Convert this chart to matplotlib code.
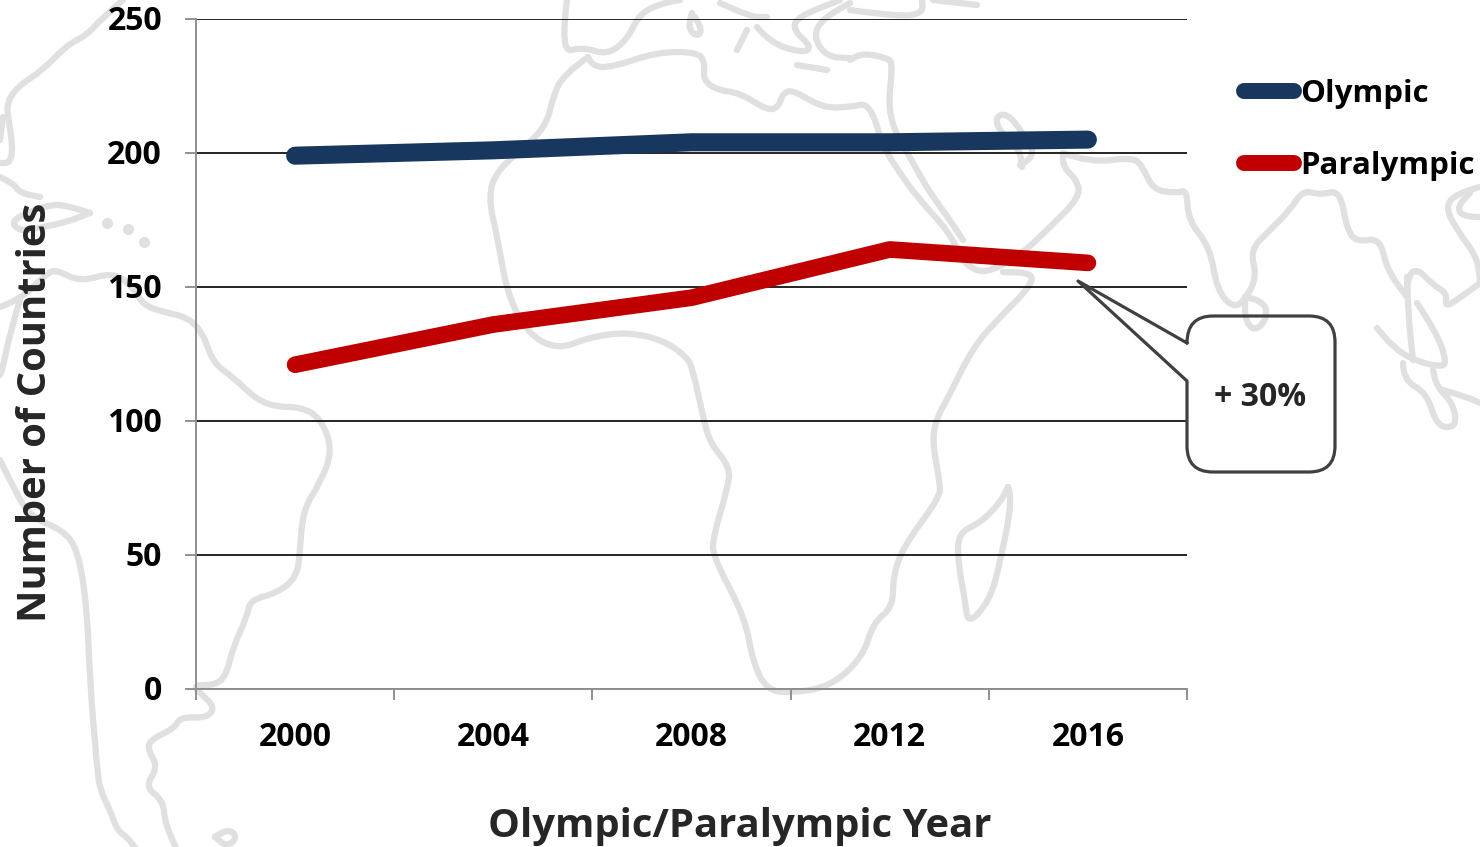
import matplotlib.pyplot as plt
from matplotlib.patches import PathPatch
from matplotlib.path import Path
from matplotlib.transforms import ScaledTranslation

W, H = 1480, 847

years = ['2000', '2004', '2008', '2012', '2016']
olympic = [199, 201, 204, 204, 205]
paralympic = [121, 136, 146, 164, 159]
y_ticks = [0, 50, 100, 150, 200, 250]

# faint world map behind the chart, traced in pixel coordinates of the picture
map_outlines = [
    # north america / greenland side
    [(123, 0), (100, 20), (87, 35), (67, 45), (43, 70), (17, 87), (7, 103), (8, 117), (13, 147), (10, 163), (0, 163)],
    [(3, 117), (0, 140)],
    [(0, 177), (13, 183), (20, 193), (40, 197)],
    [(90, 213), (67, 205), (47, 205), (10, 220), (20, 232), (43, 227), (67, 222), (90, 213)],
    # south america
    [(0, 307), (20, 300), (47, 273), (57, 270), (80, 282), (113, 272), (133, 287), (143, 305), (163, 312), (187, 317),
     (203, 333), (213, 363), (233, 377), (257, 400), (277, 407), (300, 407), (320, 417), (333, 450), (320, 483),
     (303, 510), (300, 550), (297, 577), (277, 593), (250, 600), (247, 617), (233, 647), (227, 673), (217, 685),
     (193, 685), (200, 693), (215, 707), (207, 718), (180, 717), (175, 728), (150, 740), (148, 750), (158, 767),
     (145, 787), (163, 800), (165, 823), (177, 850)],
    [(20, 300), (10, 333), (3, 367), (0, 375)],
    [(0, 460), (13, 487), (30, 517), (63, 530), (78, 550), (87, 607), (90, 683), (97, 767), (100, 790), (110, 810),
     (117, 830), (127, 837), (137, 850)],
    [(215, 837), (227, 828), (238, 837), (227, 847), (215, 837)],
    # europe
    [(567, 0), (560, 53), (583, 47), (607, 55), (627, 40), (640, 13), (663, 3), (680, 0)],
    [(692, 13), (687, 27), (697, 37), (702, 30), (695, 17)],
    [(720, 3), (750, 17), (767, 17)],
    [(747, 30), (737, 50)],
    [(757, 27), (770, 43), (803, 53), (812, 47), (793, 30), (797, 17), (840, 0)],
    [(850, 3), (823, 17), (813, 37), (827, 57), (850, 58)],
    [(797, 65), (827, 70)],
    [(850, 10), (900, 17), (923, 13), (922, 0)],
    [(933, 0), (977, 5)],
    # africa
    [(588, 57), (592, 67), (613, 67), (657, 52), (697, 52), (705, 62), (703, 80), (717, 90), (740, 93), (767, 110),
     (778, 108), (783, 93), (793, 90), (823, 108), (850, 107), (870, 103), (883, 147), (900, 173), (917, 197),
     (950, 233), (960, 257), (973, 270), (990, 272), (1023, 253), (1050, 227), (1080, 197), (1077, 180), (1063, 167),
     (1063, 153)],
    [(588, 57), (563, 75), (553, 97), (547, 123), (530, 143), (497, 170), (488, 197), (498, 240), (507, 293),
     (527, 333), (557, 350), (590, 337), (627, 332), (663, 340), (687, 357), (693, 370), (703, 417), (710, 443),
     (730, 467), (728, 487), (713, 537), (713, 557), (745, 617), (753, 663), (767, 690), (790, 693), (830, 687),
     (863, 657), (873, 623), (893, 607), (893, 577), (903, 547), (940, 497), (940, 483), (932, 440), (937, 417),
     (947, 400), (973, 347), (1000, 317), (1030, 287), (1033, 273), (1003, 272)],
    [(1008, 487), (1013, 497), (1000, 563), (990, 600), (968, 625), (965, 600), (958, 563), (958, 533), (980, 523),
     (1000, 503), (1008, 487)],
    # red sea, arabia
    [(963, 240), (950, 220), (930, 193), (913, 163), (887, 117), (893, 63), (887, 58), (863, 53), (850, 60)],
    [(1020, 165), (1037, 157), (1023, 133), (1007, 113), (995, 117), (1000, 132), (1020, 150), (1022, 167)],
    # south asia
    [(1063, 153), (1090, 163), (1133, 157), (1143, 167), (1153, 190), (1177, 193), (1187, 190), (1188, 220),
     (1210, 247), (1217, 290), (1233, 308), (1245, 300), (1257, 277), (1250, 250), (1270, 230), (1290, 210),
     (1303, 190), (1320, 195), (1340, 190), (1347, 230), (1357, 242), (1380, 238), (1387, 270), (1407, 297)],
    [(1245, 297), (1263, 300), (1268, 317), (1255, 332), (1245, 320), (1245, 297)],
    [(1407, 297), (1407, 277), (1417, 268), (1433, 285), (1447, 293), (1445, 307), (1457, 300), (1480, 283)],
    [(1407, 277), (1408, 313), (1413, 360)],
    [(1417, 303), (1437, 333), (1447, 363), (1440, 367), (1413, 360), (1393, 347), (1377, 328)],
    [(1403, 363), (1403, 380), (1427, 393), (1437, 427), (1457, 427), (1453, 403), (1437, 387), (1433, 370)],
    [(1443, 390), (1467, 397), (1480, 403)],
    [(1480, 187), (1457, 193), (1445, 207), (1457, 230), (1477, 257), (1480, 280)],
    [(1480, 217), (1463, 217), (1457, 207), (1470, 193)],
]
map_islands = [(107, 223), (128, 229), (144, 242)]

plt.rcParams['font.family'] = ['Open Sans', 'DejaVu Sans']
plt.rcParams['font.weight'] = 'bold'


def smooth_path(points):
    # quadratic curves through the midpoints so the coast looks hand drawn
    verts = [points[0]]
    codes = [Path.MOVETO]
    for a, b in zip(points[1:-1], points[2:]):
        verts += [a, ((a[0] + b[0]) / 2, (a[1] + b[1]) / 2)]
        codes += [Path.CURVE3, Path.CURVE3]
    verts.append(points[-1])
    codes.append(Path.LINETO)
    return Path(verts, codes)


fig = plt.figure(figsize=(W / 100, H / 100), dpi=100)

# map layer
bg = fig.add_axes([0, 0, 1, 1], zorder=0)
bg.set_xlim(0, W)
bg.set_ylim(H, 0)
bg.axis('off')
for outline in map_outlines:
    bg.add_patch(PathPatch(smooth_path(outline), fc='none', ec='#e0e0e0', lw=4.5, capstyle='round', joinstyle='round'))
bg.plot([p[0] for p in map_islands], [p[1] for p in map_islands], 'o', color='#e0e0e0', ms=7)

ax = fig.add_axes([196 / W, 1 - 689 / H, (1187 - 196) / W, (689 - 19) / H], zorder=1)
ax.patch.set_alpha(0)

x = range(len(years))
ax.plot(x, olympic, color='#17375e', lw=13, solid_capstyle='round', label='Olympic', zorder=3)
ax.plot(x, paralympic, color='#c00000', lw=12, solid_capstyle='round', label='Paralympic', zorder=3)

ax.set_xlim(-0.5, 4.5)
ax.set_ylim(0, 250)
ax.set_yticks(y_ticks)
ax.grid(axis='y', color='black', lw=1.2)
ax.set_axisbelow(True)

# ticks sit between the categories, labels on them
ax.set_xticks([i - 0.5 for i in range(len(years) + 1)])
ax.set_xticklabels([])
ax.set_xticks(list(x), minor=True)
ax.set_xticklabels(years, minor=True)
ax.tick_params(axis='x', which='minor', length=0, pad=22.8, labelsize=23)
ax.tick_params(axis='x', which='major', length=8, width=1.4, color='#909090')
ax.tick_params(axis='y', length=8, width=1.4, color='#909090', labelsize=23, pad=16.5)

# labels sit 2 px higher than the default centring
shift = ScaledTranslation(0, 2 / 100, fig.dpi_scale_trans)
for label in ax.get_yticklabels():
    label.set_transform(label.get_transform() + shift)

for s in ['top', 'right']:
    ax.spines[s].set_visible(False)
for s in ['left', 'bottom']:
    ax.spines[s].set_color('#909090')
    ax.spines[s].set_linewidth(1.4)

fig.text(740 / W, 1 - 826 / H, 'Olympic/Paralympic Year', fontsize=28.8, ha='center', va='center', color='#262626')
fig.text(36 / W, 1 - 412 / H, 'Number of Countries', fontsize=28.7, rotation=90, ha='center', va='center',
         color='#262626')

leg = ax.legend(loc='upper left', bbox_to_anchor=(1244 / W, 1 - 79 / H), bbox_transform=fig.transFigure, frameon=False,
                fontsize=22.5, handlelength=1.6, handletextpad=0.2, labelspacing=1.34, borderpad=0, borderaxespad=0)
for line in leg.get_lines():
    line.set_linewidth(11.5)

# callout, outline only: the map shows through it
top = fig.add_axes([0, 0, 1, 1], zorder=2)
top.set_xlim(0, W)
top.set_ylim(H, 0)
top.axis('off')
callout = Path(
    [(1187, 343), (1187, 316), (1213, 316), (1309, 316), (1335, 316), (1335, 342), (1335, 446), (1335, 472),
     (1309, 472), (1213, 472), (1187, 472), (1187, 446), (1187, 381), (1078, 281), (1187, 343)],
    [Path.MOVETO, Path.CURVE3, Path.CURVE3, Path.LINETO, Path.CURVE3, Path.CURVE3, Path.LINETO, Path.CURVE3,
     Path.CURVE3, Path.LINETO, Path.CURVE3, Path.CURVE3, Path.LINETO, Path.LINETO, Path.LINETO])
top.add_patch(PathPatch(callout, fc='none', ec='#404040', lw=2.3, joinstyle='round', capstyle='round'))
top.text(1260, 398, '+ 30%', fontsize=23, ha='center', va='center', color='#262626')

fig.savefig('out.png', dpi=100)
